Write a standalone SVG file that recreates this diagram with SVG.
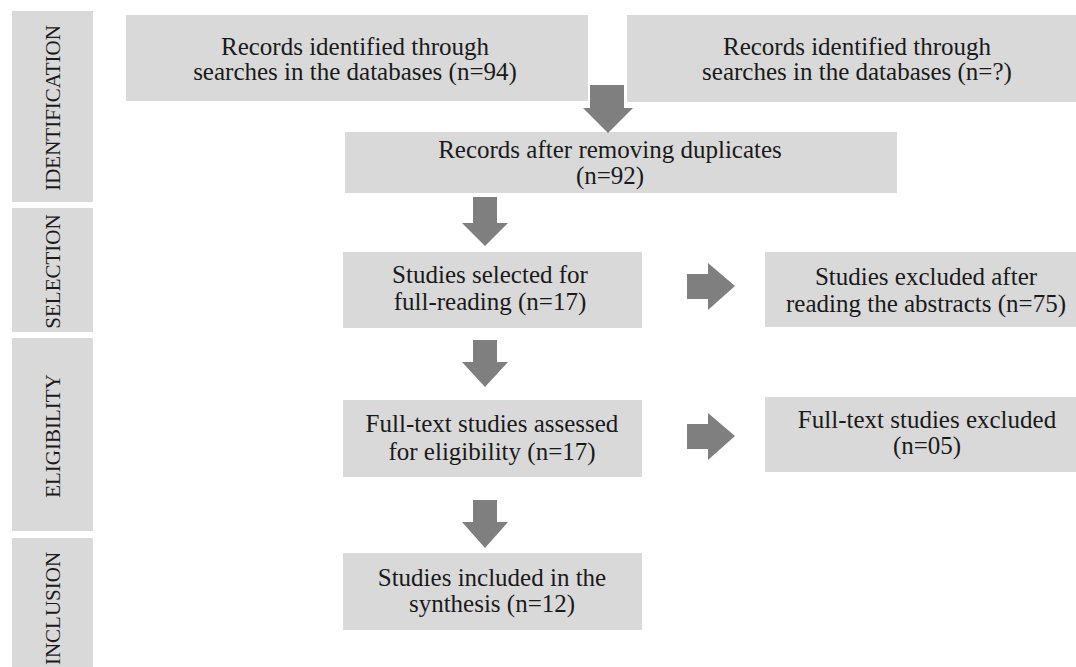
<svg xmlns="http://www.w3.org/2000/svg" width="1076" height="667" viewBox="0 0 1076 667">
<style>
.box{fill:#d9d9d9;}
.side{fill:#d9d9d9;}
.t{font-family:"Liberation Serif","Times New Roman",serif;font-size:25px;fill:#1a1a1a;text-anchor:middle;}
.s{font-family:"Liberation Serif","Times New Roman",serif;font-size:21px;fill:#1a1a1a;text-anchor:middle;}
.arr{fill:#7f7f7f;}
</style>
<rect width="1076" height="667" fill="#ffffff"/>
<g id="stage-identification"><rect class="side" x="12" y="11" width="81" height="191"/><text class="s" transform="translate(60,108) rotate(-90)">IDENTIFICATION</text></g>
<g id="stage-selection"><rect class="side" x="12" y="208" width="81" height="124"/><text class="s" transform="translate(60,271.5) rotate(-90)">SELECTION</text></g>
<g id="stage-eligibility"><rect class="side" x="12" y="338" width="81" height="193"/><text class="s" transform="translate(60,436) rotate(-90)">ELIGIBILITY</text></g>
<g id="stage-inclusion"><rect class="side" x="12" y="538" width="81" height="140"/><text class="s" transform="translate(60,608.5) rotate(-90)">INCLUSION</text></g>

<g id="n-records-db1"><rect class="box" x="126" y="15" width="462" height="86"/><text class="t" x="355" y="55">Records identified through</text><text class="t" x="355" y="80">searches in the databases (n=94)</text></g>
<g id="n-records-db2"><rect class="box" x="627" y="15" width="449" height="87"/><text class="t" x="857" y="55">Records identified through</text><text class="t" x="857" y="80">searches in the databases (n=?)</text></g>
<g id="n-dedup"><rect class="box" x="345" y="132" width="552" height="61"/><text class="t" x="610" y="158">Records after removing duplicates</text><text class="t" x="610" y="184">(n=92)</text></g>
<g id="n-selected"><rect class="box" x="343" y="252" width="299" height="76"/><text class="t" x="490" y="283">Studies selected for</text><text class="t" x="490" y="310">full-reading (n=17)</text></g>
<g id="n-excl-abstracts"><rect class="box" x="765" y="252" width="311" height="75"/><text class="t" x="926" y="285">Studies excluded after</text><text class="t" x="926" y="312">reading the abstracts (n=75)</text></g>
<g id="n-fulltext"><rect class="box" x="343" y="400" width="299" height="77"/><text class="t" x="492" y="432">Full-text studies assessed</text><text class="t" x="492" y="460">for eligibility (n=17)</text></g>
<g id="n-excl-fulltext"><rect class="box" x="765" y="397" width="311" height="75"/><text class="t" x="927" y="428">Full-text studies excluded</text><text class="t" x="927" y="454">(n=05)</text></g>
<g id="n-included"><rect class="box" x="343" y="553" width="299" height="77"/><text class="t" x="492" y="586">Studies included in the</text><text class="t" x="492" y="612">synthesis (n=12)</text></g>

<g id="connectors">
<polygon class="arr" points="590,85 624,85 624,108 633,108 608,133 583,108 590,108"/>
<polygon class="arr" points="473,197 497,197 497,223 508,223 485,246 462,223 473,223"/>
<polygon class="arr" points="473,340 497,340 497,362 508,362 485,387 462,362 473,362"/>
<polygon class="arr" points="687,274 708,274 708,263 735,286 708,310 708,299 687,299"/>
<polygon class="arr" points="687,424 708,424 708,413 735,436 708,460 708,449 687,449"/>
<polygon class="arr" points="473,500 497,500 497,522 508,522 485,548 462,522 473,522"/>
</g>
</svg>
